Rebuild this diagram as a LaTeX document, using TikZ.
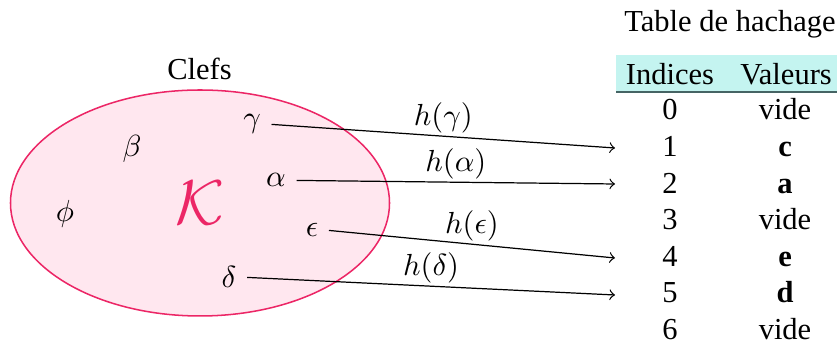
\documentclass[tikz,border=0pt]{standalone}
\usepackage{fontspec}
\setmainfont{Liberation Serif}
\definecolor{kpink}{RGB}{236,38,102}
\definecolor{kfill}{RGB}{255,231,239}
\definecolor{bandcol}{RGB}{196,244,240}
\definecolor{rulecol}{RGB}{70,100,100}
\begin{document}
\begin{tikzpicture}[x=0.3279pt,y=-0.3279pt,
  txt/.style={anchor=base},
  keynode/.style={anchor=base},
  hasharrow/.style={->,line width=0.4pt},
  hlabel/.style={midway,above,inner sep=0.8pt}]
\useasboundingbox (0,0) rectangle (837,344);
% set of keys
\fill[kfill] (200,203) ellipse [x radius=62.14pt, y radius=37.05pt];
\draw[kpink, line width=0.5pt] (200,203) ellipse [x radius=62.14pt, y radius=37.05pt];
\node[txt] (clefs) at (199.5,80) {Clefs};
\node[text=kpink] (K) at (200,203) {\huge$\mathcal{K}$};
\node[keynode] (b) at (132,157) {$\beta$};
\node[keynode] (f) at (65,222) {$\phi$};
\node[keynode] (g) at (252,128) {$\gamma$};
\node[keynode] (a) at (276,187) {$\alpha$};
\node[keynode] (e) at (312,237) {$\epsilon$};
\node[keynode] (d) at (229,288) {$\delta$};
% table
\node[txt] (title) at (730,32) {Table de hachage};
\fill[bandcol] (616,55) rectangle (837,92);
\draw[rulecol, line width=0.6pt] (616,92) -- (837,92);
\node[txt] (hi) at (670,85) {Indices};
\node[txt] (hv) at (786,85) {Valeurs};
\node[txt] (i0) at (670,120) {0};
\node[txt] (i1) at (670,157) {1};
\node[txt] (i2) at (670,193.5) {2};
\node[txt] (i3) at (670,230) {3};
\node[txt] (i4) at (670,266.5) {4};
\node[txt] (i5) at (670,303) {5};
\node[txt] (i6) at (670,339.5) {6};
\node[txt] (v0) at (785,120) {vide};
\node[txt] (v1) at (785,157) {\textbf{c}};
\node[txt] (v2) at (785,193.5) {\textbf{a}};
\node[txt] (v3) at (785,230) {vide};
\node[txt] (v4) at (785,266.5) {\textbf{e}};
\node[txt] (v5) at (785,303) {\textbf{d}};
\node[txt] (v6) at (785,339.5) {vide};
% arrows
\coordinate (t1) at (615,148);
\coordinate (t2) at (615,184);
\coordinate (t4) at (615,258);
\coordinate (t5) at (615,295);
\draw[hasharrow] (g.east) -- (t1) node[hlabel] {$h(\gamma)$};
\draw[hasharrow] (a.east) -- (t2) node[hlabel] {$h(\alpha)$};
\draw[hasharrow] (e.east) -- (t4) node[hlabel] {$h(\epsilon)$};
\draw[hasharrow] (d.east) -- (t5) node[hlabel] {$h(\delta)$};
\end{tikzpicture}
\end{document}
